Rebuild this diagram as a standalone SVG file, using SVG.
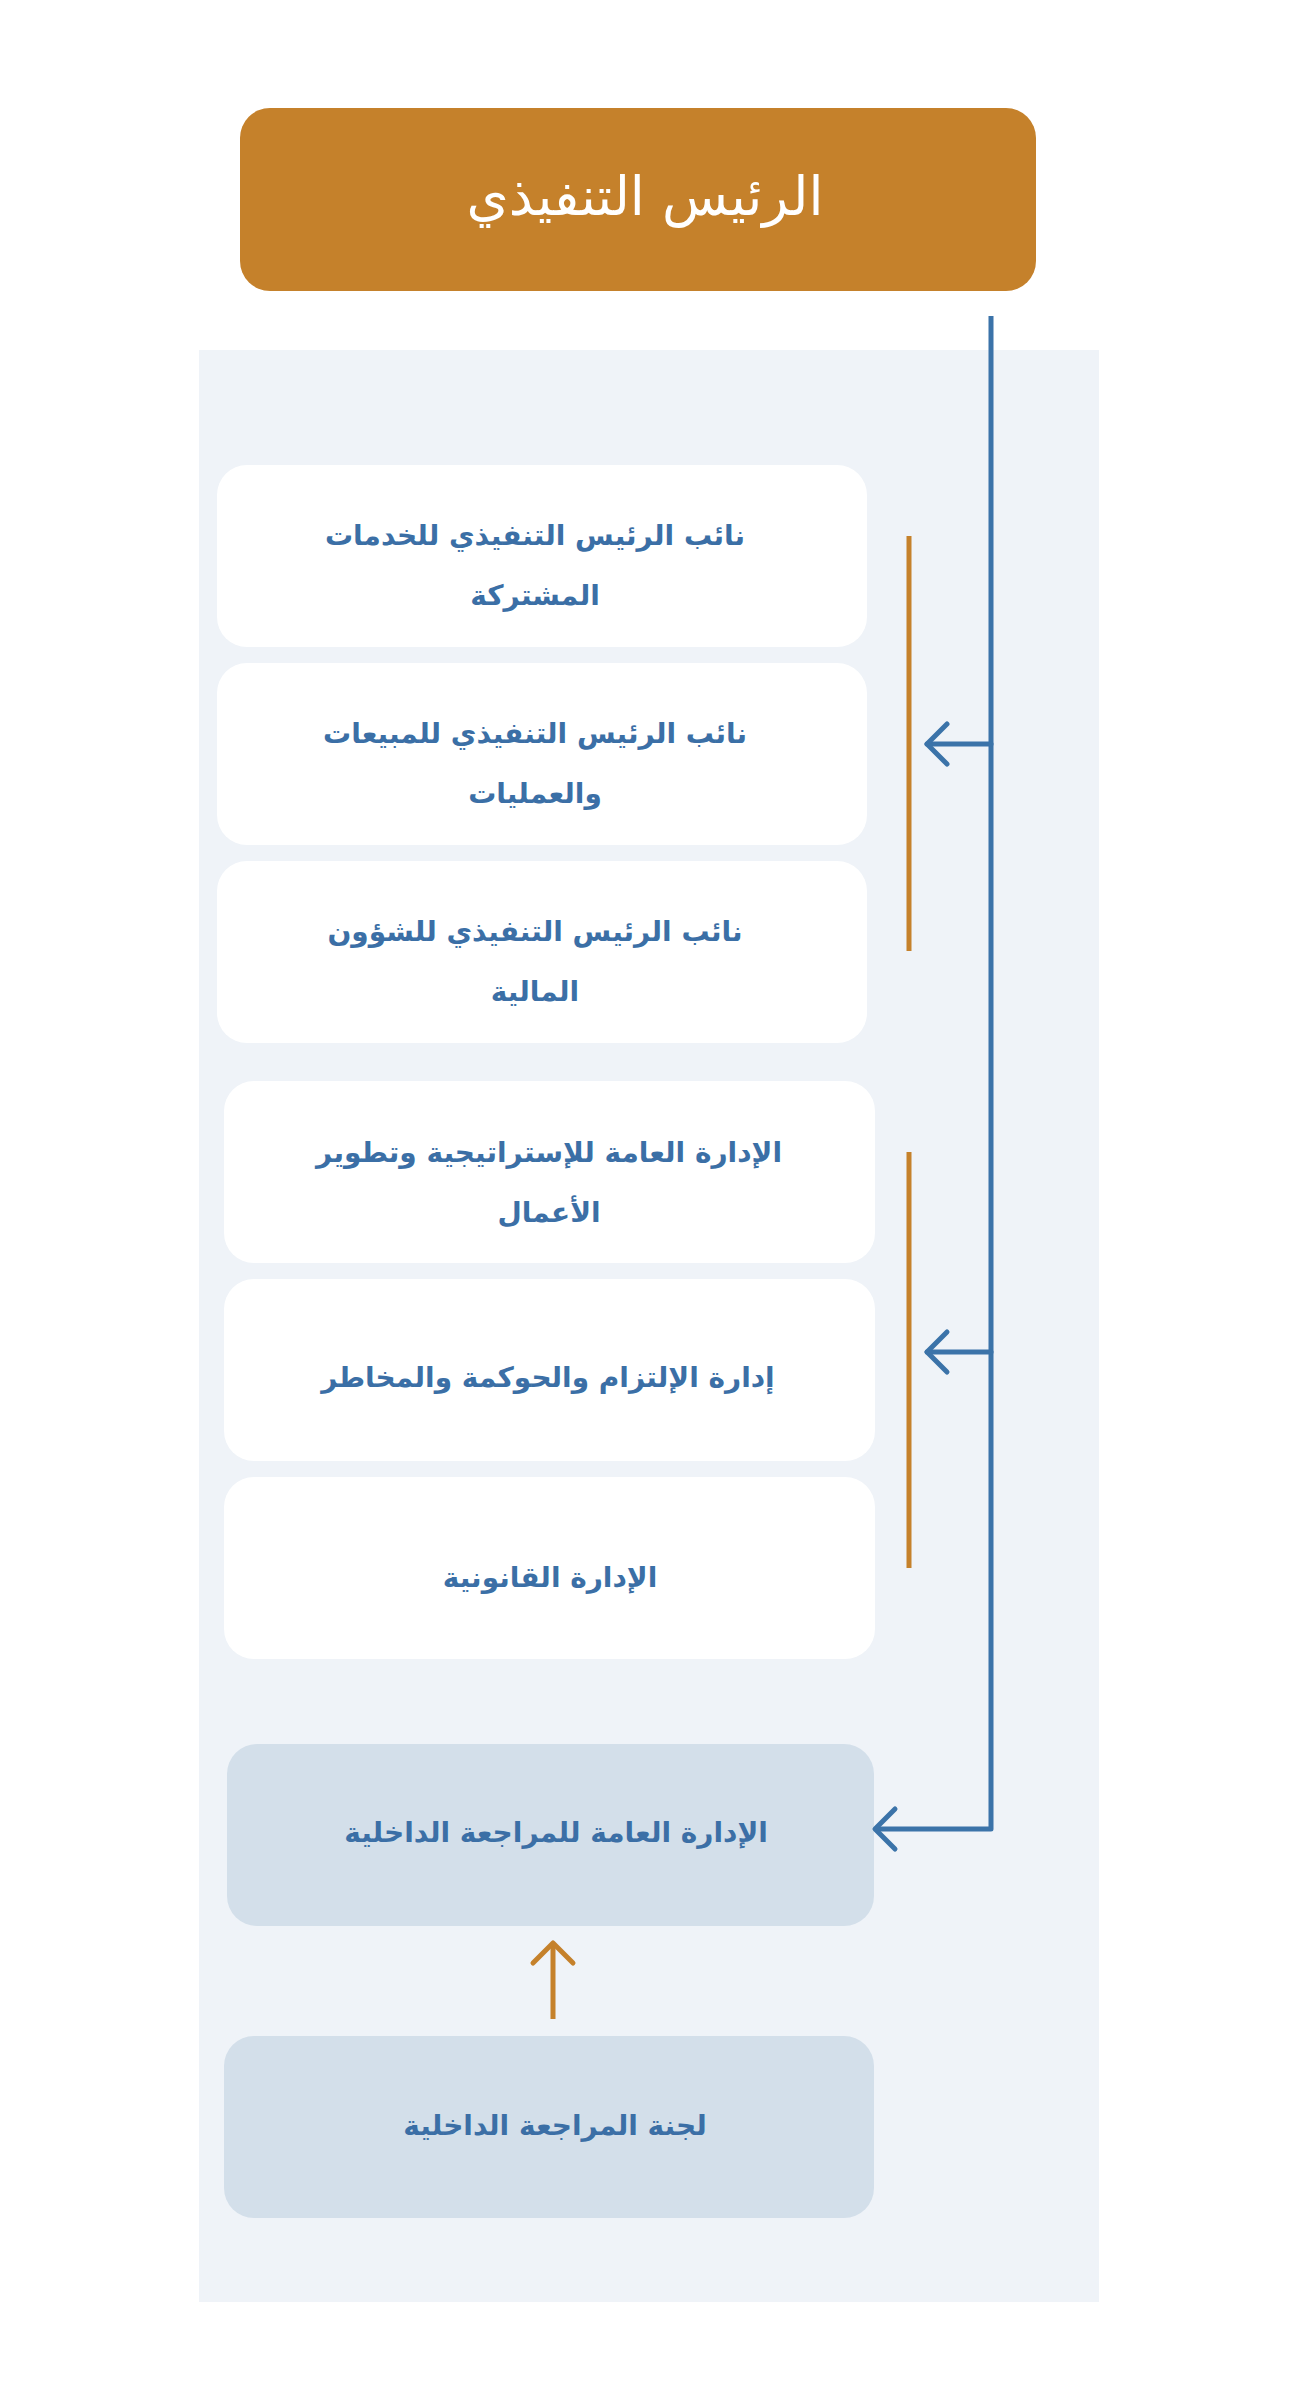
<svg xmlns="http://www.w3.org/2000/svg" width="1297" height="2408" viewBox="0 0 1297 2408">
<defs>
<style>
.t{font-family:"DejaVu Sans",sans-serif;font-weight:bold;font-size:28px;fill:#3B6FA6;text-anchor:middle;direction:rtl}
.w{fill:#FFFFFF}
.l{fill:#D3DFEA}
.cb{fill:none;stroke:#3B73A9;stroke-width:5;stroke-linecap:round;stroke-linejoin:round}
.co{fill:none;stroke:#C5812B;stroke-width:5;stroke-linejoin:round}
</style>
</defs>
<rect x="0" y="0" width="1297" height="2408" fill="#FFFFFF"/>
<rect x="199" y="350" width="900" height="1952" fill="#EFF3F8"/>
<g id="ceo">
<rect x="240" y="108" width="796" height="183" rx="30" fill="#C5812B"/>
<text x="645" y="215" style="font-family:'DejaVu Sans',sans-serif;font-size:54px;fill:#FFFFFF;text-anchor:middle;direction:rtl">الرئيس التنفيذي</text>
</g>
<g id="vp-shared">
<rect class="w" x="217" y="465" width="650" height="182" rx="30"/>
<text class="t" x="535" y="545">نائب الرئيس التنفيذي للخدمات</text>
<text class="t" x="535" y="605">المشتركة</text>
</g>
<g id="vp-sales">
<rect class="w" x="217" y="663" width="650" height="182" rx="30"/>
<text class="t" x="535" y="743">نائب الرئيس التنفيذي للمبيعات</text>
<text class="t" x="535" y="803">والعمليات</text>
</g>
<g id="vp-finance">
<rect class="w" x="217" y="861" width="650" height="182" rx="30"/>
<text class="t" x="535" y="941">نائب الرئيس التنفيذي للشؤون</text>
<text class="t" x="535" y="1001">المالية</text>
</g>
<g id="strategy">
<rect class="w" x="224" y="1081" width="651" height="182" rx="30"/>
<text class="t" x="549" y="1162">الإدارة العامة للإستراتيجية وتطوير</text>
<text class="t" x="549" y="1222">الأعمال</text>
</g>
<g id="compliance">
<rect class="w" x="224" y="1279" width="651" height="182" rx="30"/>
<text class="t" x="548" y="1387">إدارة الإلتزام والحوكمة والمخاطر</text>
</g>
<g id="legal">
<rect class="w" x="224" y="1477" width="651" height="182" rx="30"/>
<text class="t" x="550" y="1587">الإدارة القانونية</text>
</g>
<g id="internal-audit">
<rect class="l" x="227" y="1744" width="647" height="182" rx="30"/>
<text class="t" x="556" y="1842">الإدارة العامة للمراجعة الداخلية</text>
</g>
<g id="audit-committee">
<rect class="l" x="224" y="2036" width="650" height="182" rx="30"/>
<text class="t" x="555" y="2135">لجنة المراجعة الداخلية</text>
</g>
<g id="connectors">
<line class="co" x1="909" y1="536" x2="909" y2="951"/>
<line class="co" x1="909" y1="1152" x2="909" y2="1568"/>
<polyline class="cb" points="991,316 991,1829 876,1829" style="stroke-linecap:butt"/>
<line class="cb" x1="991" y1="744" x2="927" y2="744"/>
<polyline class="cb" points="947,724 927,744 947,764"/>
<line class="cb" x1="991" y1="1352" x2="927" y2="1352"/>
<polyline class="cb" points="947,1332 927,1352 947,1372"/>
<polyline class="cb" points="895,1809 875,1829 895,1849"/>
<line class="co" x1="553" y1="2019" x2="553" y2="1943" style="stroke-linecap:butt"/>
<polyline class="co" points="533,1963 553,1943 573,1963" style="stroke-linecap:round"/>
</g>
</svg>
